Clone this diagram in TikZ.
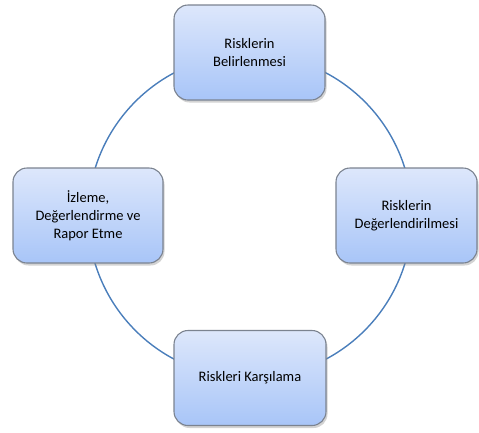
\documentclass[tikz,border=0pt]{standalone}
\usepackage{fontspec}
\setmainfont{Carlito}
\usetikzlibrary{shadows}
\definecolor{ringblue}{HTML}{4A7EBB}
\definecolor{boxborder}{HTML}{7B8390}
\definecolor{boxtop}{HTML}{DDE7FB}
\definecolor{boxbottom}{HTML}{A8C5F8}
\begin{document}
\begin{tikzpicture}[x=1pt,y=-1pt,
  box/.style={draw=boxborder, line width=1.1pt, rounded corners=14pt,
    top color=boxtop, bottom color=boxbottom, align=center,
    font=\fontsize{14.5}{18}\selectfont, inner sep=0pt,
    minimum height=95pt, minimum width=151pt,
    drop shadow={opacity=0.35, shadow xshift=1.5pt, shadow yshift=-2.5pt}},
  ring/.style={draw=ringblue, line width=1.4pt}]
\useasboundingbox (0,0) rectangle (479,432);
\coordinate (c) at (250,216);
\draw[ring] (c) circle[radius=162pt];
\node[box] (top) at (249.5,52.5) {Risklerin\\Belirlenmesi};
\node[box, minimum width=141pt] (right) at (406.5,215.5) {Risklerin\\Değerlendirilmesi};
\node[box, minimum width=152pt] (bottom) at (250,378) {Riskleri Karşılama};
\node[box, minimum width=150pt] (left) at (88,215.5) {İzleme,\\Değerlendirme ve\\Rapor Etme};
\end{tikzpicture}
\end{document}
